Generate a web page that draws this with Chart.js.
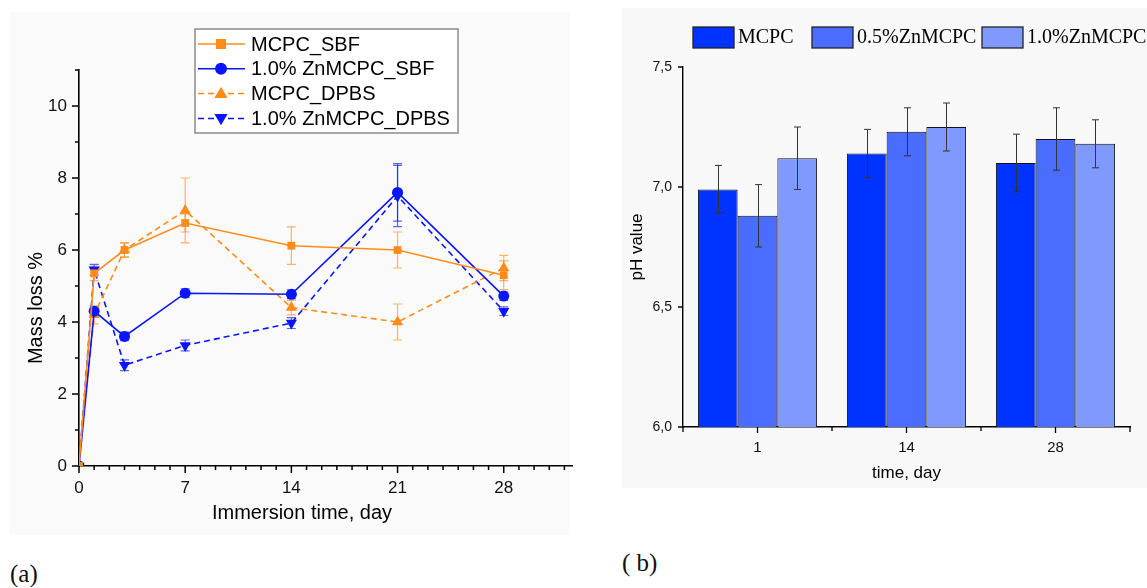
<!DOCTYPE html>
<html>
<head>
<meta charset="utf-8">
<script src="https://cdn.jsdelivr.net/npm/chart.js@4.4.1/dist/chart.umd.min.js"></script>
<style>
body{margin:0;width:1147px;height:588px;background:#fff;position:relative;overflow:hidden;}
#bgA{position:absolute;left:10px;top:12px;width:560px;height:523px;background:#fafafa;}
#bgB{position:absolute;left:622px;top:8px;width:525px;height:480px;background:#f8f8f8;}
#chartA{position:absolute;left:0;top:0;}
#chartB{position:absolute;left:600px;top:0;}
.lab{position:absolute;font-family:"Liberation Serif","Times New Roman",serif;font-size:25px;color:#111;}
</style>
</head>
<body>
<div id="bgA"></div>
<div id="bgB"></div>
<canvas id="chartA" width="600" height="540"></canvas>
<canvas id="chartB" width="547" height="500"></canvas>
<div class="lab" style="left:10px;top:560px;">(a)</div>
<div class="lab" style="left:622px;top:549px;">( b)</div>

<script>
// ---- (a) mass loss ----
const days=[0,1,3,7,14,21,28];
const xTicksA=[0,7,14,21,28];
const yTicksA=[0,2,4,6,8,10];

const mcpcSBF=[0,5.35,6.0,6.75,6.12,6.0,5.3];
const znSBF=[0,4.3,3.6,4.8,4.77,7.6,4.72];
const mcpcDPBS=[0,4.2,6.0,7.1,4.4,4.0,5.5];
const znDPBS=[0,5.45,2.8,3.35,3.97,7.5,4.3];

const errMcpcSBF=[0,0.2,0.2,0.25,0.52,0.5,0.4];
const errZnSBF=[0,0.12,0.12,0.12,0.12,0.8,0.12];
const errMcpcDPBS=[0,0.25,0.2,0.9,0.2,0.5,0.35];
const errZnDPBS=[0,0.15,0.15,0.15,0.15,0.85,0.12];

const namesA=["MCPC_SBF","1.0% ZnMCPC_SBF","MCPC_DPBS","1.0% ZnMCPC_DPBS"];

// ---- (b) pH ----
const times=["1","14","28"];
const phMCPC=[6.99,7.14,7.10];
const ph05=[6.88,7.23,7.20];
const ph10=[7.12,7.25,7.18];
const errMCPC=[0.1,0.1,0.12];
const err05=[0.13,0.1,0.13];
const err10=[0.13,0.1,0.1];
const namesB=["MCPC","0.5%ZnMCPC","1.0%ZnMCPC"];
const yTicksB=[6.0,6.5,7.0,7.5];

const orange="#ff8c1a";
const blue="#0a14ff";

function pts(v){return days.map((d,i)=>({x:d,y:v[i]}));}

function marker(ctx,style,x,y,r){
ctx.beginPath();
if(style=="rect"){ctx.rect(x-r,y-r,2*r,2*r);}
else if(style=="circle"){ctx.arc(x,y,r,0,Math.PI*2);}
else if(style=="up"){ctx.moveTo(x,y-r*1.15);ctx.lineTo(x+r*1.1,y+r*0.75);ctx.lineTo(x-r*1.1,y+r*0.75);ctx.closePath();}
else{ctx.moveTo(x,y+r*1.15);ctx.lineTo(x+r*1.1,y-r*0.75);ctx.lineTo(x-r*1.1,y-r*0.75);ctx.closePath();}
ctx.fill();
}

const errorsA=[errMcpcSBF,errZnSBF,errMcpcDPBS,errZnDPBS];
const stylesA=["rect","circle","up","down"];

const plugA={
id:"plugA",
beforeDatasetsDraw(chart){
const ctx=chart.ctx,x=chart.scales.x,y=chart.scales.y;
chart.data.datasets.forEach((ds,k)=>{
ctx.save();
ctx.strokeStyle=ds.borderColor;
ctx.globalAlpha=0.65;
ctx.lineWidth=1.2;
ds.data.forEach((p,i)=>{
let e=errorsA[k][i];
if(!e)return;
let px=x.getPixelForValue(p.x);
let t=y.getPixelForValue(p.y+e),b=y.getPixelForValue(p.y-e);
ctx.beginPath();
ctx.moveTo(px,t);ctx.lineTo(px,b);
ctx.moveTo(px-4.5,t);ctx.lineTo(px+4.5,t);
ctx.moveTo(px-4.5,b);ctx.lineTo(px+4.5,b);
ctx.stroke();
});
ctx.restore();
});
},
afterDraw(chart){
const ctx=chart.ctx,x=chart.scales.x,y=chart.scales.y,a=chart.chartArea;
ctx.save();
ctx.strokeStyle="#000";
ctx.lineWidth=1.5;
ctx.beginPath();
for(let d=0;d<=32;d++){
let px=x.getPixelForValue(d);
ctx.moveTo(px,a.bottom);ctx.lineTo(px,a.bottom+(d%7==0?7:4));
}
for(let v=0;v<=11;v++){
let py=y.getPixelForValue(v);
ctx.moveTo(a.left,py);ctx.lineTo(a.left-(v%2==0?7:4),py);
}
ctx.stroke();

// axis titles
ctx.fillStyle="#000";
ctx.font='20px "Liberation Sans", Arial, sans-serif';
ctx.textAlign="center";
ctx.textBaseline="middle";
ctx.fillText("Immersion time, day",302,513);
ctx.save();
ctx.translate(36,308);
ctx.rotate(-Math.PI/2);
ctx.fillText("Mass loss %",0,0);
ctx.restore();

// legend
ctx.fillStyle="#fff";
ctx.fillRect(195,29,263,104);
ctx.strokeStyle="#8a8a8a";
ctx.lineWidth=1.5;
ctx.strokeRect(195,29,263,104);
chart.data.datasets.forEach((ds,k)=>{
let ly=44+k*24.8;
ctx.strokeStyle=ds.borderColor;
ctx.lineWidth=1.5;
ctx.setLineDash(ds.borderDash||[]);
ctx.beginPath();ctx.moveTo(198,ly);ctx.lineTo(245,ly);ctx.stroke();
ctx.setLineDash([]);
ctx.fillStyle=ds.borderColor;
marker(ctx,stylesA[k],221,ly,stylesA[k]=="rect"?5:6);
ctx.fillStyle="#000";
ctx.textAlign="left";
ctx.fillText(ds.label,251,ly+1);
});
ctx.restore();
}
};

function lineSet(label,vals,color,style,dash){
let ps={rect:"rect",circle:"circle",up:"triangle",down:"triangle"}[style];
return{
label:label,
data:pts(vals),
borderColor:color,
backgroundColor:color,
borderWidth:1.6,
borderDash:dash,
pointStyle:ps,
pointRotation:style=="down"?180:0,
pointRadius:style=="rect"?5.5:(style=="circle"?5.5:6.5),
pointBorderWidth:0,
tension:0
};
}

new Chart(document.getElementById("chartA"),{
type:"line",
data:{
datasets:[
lineSet(namesA[0],mcpcSBF,orange,"rect",[]),
lineSet(namesA[1],znSBF,blue,"circle",[]),
lineSet(namesA[2],mcpcDPBS,orange,"up",[6,4]),
lineSet(namesA[3],znDPBS,blue,"down",[6,4])
]
},
options:{
responsive:false,
animation:false,
layout:{padding:{top:70,right:28,left:0,bottom:0}},
plugins:{legend:{display:false},tooltip:{enabled:false}},
scales:{
x:{
type:"linear",min:0,max:32.5,
afterBuildTicks(s){s.ticks=xTicksA.map(v=>({value:v}));},
afterFit(s){s.height=74;},
grid:{display:false,drawTicks:false},
border:{display:true,color:"#000",width:1.6},
ticks:{color:"#111",font:{family:"Liberation Sans",size:17},padding:12,maxRotation:0}
},
y:{
min:0,max:11,
afterBuildTicks(s){s.ticks=yTicksA.map(v=>({value:v}));},
afterFit(s){s.width=79;},
grid:{display:false,drawTicks:false},
border:{display:true,color:"#000",width:1.6},
ticks:{color:"#111",font:{family:"Liberation Sans",size:17},padding:12}
}
}
},
plugins:[plugA]
});

// ---- chart b ----
const colorsB=["#0033ff","#4a6cff","#8099ff"];
const errorsB=[errMCPC,err05,err10];

const plugB={
id:"plugB",
afterDatasetsDraw(chart){
const ctx=chart.ctx,y=chart.scales.y;
ctx.save();
ctx.strokeStyle="#333";
ctx.lineWidth=1;
chart.data.datasets.forEach((ds,k)=>{
chart.getDatasetMeta(k).data.forEach((bar,i)=>{
let v=ds.data[i],e=errorsB[k][i];
let px=Math.round(bar.x)+0.5;
let t=y.getPixelForValue(v+e),b=y.getPixelForValue(v-e);
ctx.beginPath();
ctx.moveTo(px,t);ctx.lineTo(px,b);
ctx.moveTo(px-3.5,t);ctx.lineTo(px+3.5,t);
ctx.moveTo(px-3.5,b);ctx.lineTo(px+3.5,b);
ctx.stroke();
});
});
ctx.restore();
},
afterDraw(chart){
const ctx=chart.ctx,x=chart.scales.x,y=chart.scales.y,a=chart.chartArea;
ctx.save();
ctx.strokeStyle="#000";
ctx.lineWidth=1.3;
ctx.beginPath();
yTicksB.forEach(v=>{
let py=y.getPixelForValue(v);
ctx.moveTo(a.left,py);ctx.lineTo(a.left-5,py);
});
ctx.moveTo(a.left,a.bottom);ctx.lineTo(a.left,a.bottom+5);
ctx.moveTo(a.right,a.bottom);ctx.lineTo(a.right,a.bottom+5);
for(let i=0;i<times.length;i++){
let px=x.getPixelForValue(i);
ctx.moveTo(px,a.bottom);ctx.lineTo(px,a.bottom+6);
if(i>0){
let bx=(px+x.getPixelForValue(i-1))/2;
ctx.moveTo(bx,a.bottom);ctx.lineTo(bx,a.bottom+4);
}
}
ctx.stroke();

ctx.fillStyle="#000";
ctx.font='17px "Liberation Sans", Arial, sans-serif';
ctx.textAlign="center";
ctx.textBaseline="middle";
ctx.fillText("time, day",(a.left+a.right)/2,473);
ctx.save();
ctx.translate(37,(a.top+a.bottom)/2);
ctx.rotate(-Math.PI/2);
ctx.fillText("pH value",0,0);
ctx.restore();

// legend
const lx=[93,212,382];
ctx.font='20px "Liberation Serif", "Times New Roman", serif';
ctx.textAlign="left";
chart.data.datasets.forEach((ds,k)=>{
ctx.fillStyle=ds.backgroundColor;
ctx.fillRect(lx[k],27,41,21);
ctx.strokeStyle="#222";
ctx.lineWidth=1.3;
ctx.strokeRect(lx[k],27,41,21);
ctx.fillStyle="#000";
ctx.fillText(ds.label,lx[k]+45,38);
});
ctx.restore();
}
};

function barSet(label,vals,color){
return{label:label,data:vals,backgroundColor:color,borderColor:"#111",borderWidth:1,barPercentage:1,categoryPercentage:0.8};
}

new Chart(document.getElementById("chartB"),{
type:"bar",
data:{
labels:times,
datasets:[
barSet(namesB[0],phMCPC,colorsB[0]),
barSet(namesB[1],ph05,colorsB[1]),
barSet(namesB[2],ph10,colorsB[2])
]
},
options:{
responsive:false,
animation:false,
layout:{padding:{top:67,right:17,left:0,bottom:0}},
plugins:{legend:{display:false},tooltip:{enabled:false}},
scales:{
x:{
afterFit(s){s.height=73;},
grid:{display:false,drawTicks:false},
border:{display:true,color:"#000",width:1.4},
ticks:{color:"#111",font:{family:"Liberation Sans",size:15},padding:12}
},
y:{
min:6,max:7.5,
afterBuildTicks(s){s.ticks=yTicksB.map(v=>({value:v}));},
afterFit(s){s.width=83;},
grid:{display:false,drawTicks:false},
border:{display:true,color:"#000",width:1.4},
ticks:{color:"#111",font:{family:"Liberation Sans",size:14},padding:11,
callback:(v)=>v.toFixed(1).replace(".",",")}
}
}
},
plugins:[plugB]
});
</script>
</body>
</html>
